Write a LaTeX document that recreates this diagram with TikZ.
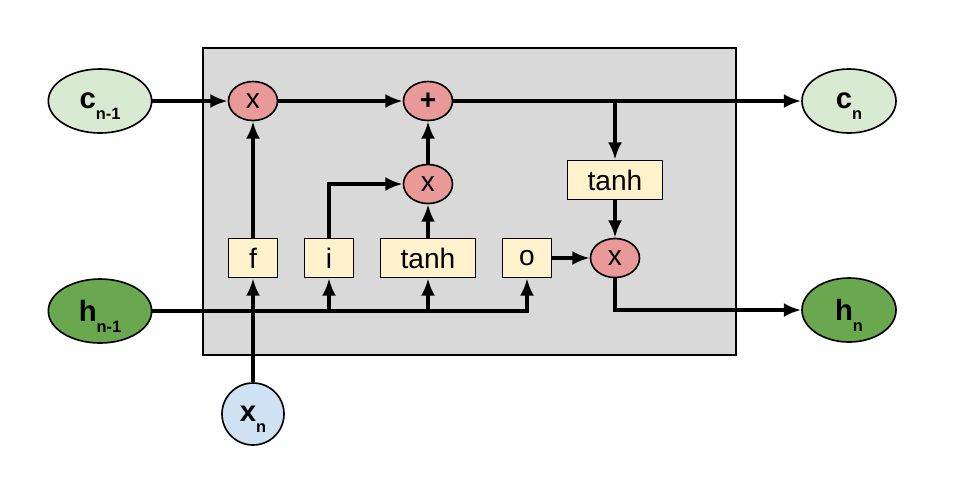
\documentclass[tikz,border=0pt]{standalone}
\usepackage{fontspec}
\setmainfont{Liberation Sans}
\usetikzlibrary{arrows.meta,positioning,calc,shapes.geometric}

\definecolor{cellgray}{HTML}{D9D9D9}
\definecolor{oppink}{HTML}{EA9999}
\definecolor{gateyellow}{HTML}{FFF2CC}
\definecolor{cellgreen}{HTML}{D9EAD3}
\definecolor{hidgreen}{HTML}{6AA84F}
\definecolor{inblue}{HTML}{CFE2F3}

\newcommand{\lsub}[1]{\raisebox{-9pt}[0pt][0pt]{\fontsize{14}{14}\selectfont\bfseries #1}}

\begin{document}
\begin{tikzpicture}[>={Latex[length=5.2mm,width=4.2mm]},x=0.3mm,y=-0.3mm,
   font=\fontsize{24}{26}\selectfont,line width=3pt,
   op/.style={ellipse,draw,line width=1.4pt,fill=oppink,minimum width=1.47cm,minimum height=1.17cm,inner sep=0pt},
   gate/.style={rectangle,draw,line width=1.4pt,fill=gateyellow,minimum width=1.47cm,minimum height=1.17cm,inner sep=0pt},
   st/.style={ellipse,draw,line width=1.4pt,minimum width=3.1cm,minimum height=1.92cm,inner sep=0pt,font=\fontsize{25}{26}\selectfont\bfseries}]
  \useasboundingbox (0,0) rectangle (963,478);
  \draw[line width=1.4pt,fill=cellgray] (203,48) rectangle (736,355);
  % states
  \node[st,fill=cellgreen] (cin) at (100,101) {c\lsub{n-1}};
  \node[st,fill=hidgreen] (hin) at (100,311) {h\lsub{n-1}};
  \node[st,fill=cellgreen,minimum width=2.82cm] (cout) at (849,101) {c\lsub{n}};
  \node[st,fill=hidgreen,minimum width=2.82cm] (hout) at (849,310) {h\lsub{n}};
  \node[st,circle,fill=inblue,minimum size=1.86cm] (xin) at (253,414) {x\lsub{n}};
  % operations
  \node[op] (fx) at (253,101) {x};
  \node[op] (plus) at (428,101) {\textbf{+}};
  \node[op] (ix) at (428,184) {x};
  \node[op] (ox) at (615,258) {x};
  % gates
  \node[gate] (f) at (253,258) {f};
  \node[gate] (i) at (329,258) {i};
  \node[gate,minimum width=2.85cm] (g) at (428,258) {tanh};
  \node[gate] (o) at (527,258) {o};
  \node[gate,minimum width=2.85cm] (tc) at (615,180) {tanh};
  % cell line
  \draw[->] (cin) -- (fx);
  \draw[->] (fx) -- (plus);
  \draw[->] (plus) -- (cout);
  \draw[->] (plus -| tc) -- (tc);
  \draw[->] (tc) -- (ox);
  \draw[->] (ox) |- (hout);
  % gates
  \draw[->] (f) -- (fx);
  \draw[->] (i) |- (ix);
  \draw[->] (g) -- (ix);
  \draw[->] (ix) -- (plus);
  \draw[->] (o) -- (ox);
  % inputs
  \draw[->] (hin) -| (o);
  \draw[->] (hin -| i) -- (i);
  \draw[->] (hin -| g) -- (g);
  \draw[->] (xin) -- (f);
\end{tikzpicture}
\end{document}
